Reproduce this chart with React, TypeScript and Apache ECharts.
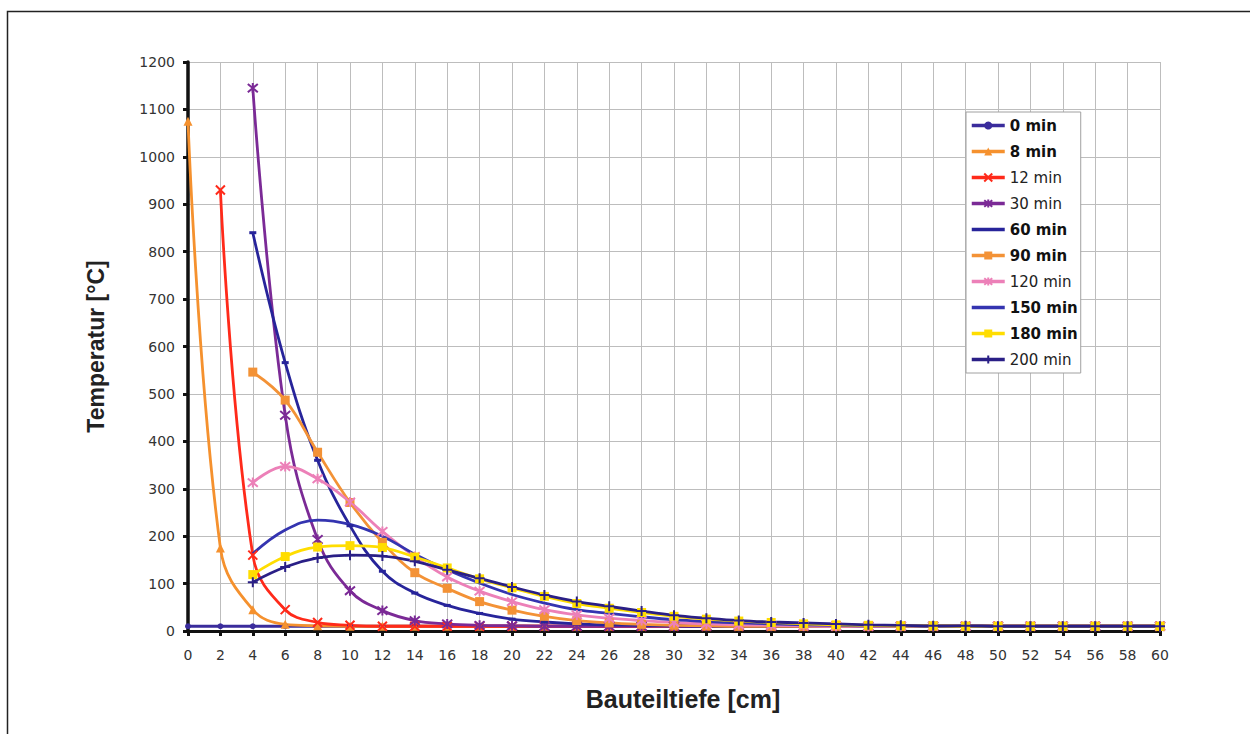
import React, { useEffect, useRef } from "react";
import * as echarts from "echarts";

const depths = [0, 2, 4, 6, 8, 10, 12, 14, 16, 18, 20, 22, 24, 26, 28, 30, 32, 34, 36, 38, 40, 42, 44, 46, 48, 50, 52, 54, 56, 58, 60];

const seriesNames = ["0 min", "8 min", "12 min", "30 min", "60 min", "90 min", "120 min", "150 min", "180 min", "200 min"];

const t0 = [10, 10, 10, 10, 10, 10, 10, 10, 10, 10, 10, 10, 10, 10, 10, 10, 10, 10, 10, 10, 10, 10, 10, 10, 10, 10, 10, 10, 10, 10, 10];
const t8 = [1075, 175, 45, 14, 11, 10, 10, 10, 10, 10, 10, 10, 10, 10, 10, 10, 10, 10, 10, 10, 10, 10, 10, 10, 10, 10, 10, 10, 10, 10, 10];
const t12 = [null, 930, 160, 45, 18, 12, 10, 10, 10, 10, 10, 10, 10, 10, 10, 10, 10, 10, 10, 10, 10, 10, 10, 10, 10, 10, 10, 10, 10, 10, 10];
const t30 = [null, null, 1145, 455, 193, 85, 43, 22, 15, 12, 11, 10, 10, 10, 10, 10, 10, 10, 10, 10, 10, 10, 10, 10, 10, 10, 10, 10, 10, 10, 10];
const t60 = [null, null, 840, 566, 360, 222, 126, 80, 54, 37, 25, 19, 15, 13, 12, 11, 10, 10, 10, 10, 10, 10, 10, 10, 10, 10, 10, 10, 10, 10, 10];
const t90 = [null, null, 546, 487, 377, 271, 187, 123, 90, 62, 44, 31, 22, 17, 14, 12, 11, 10, 10, 10, 10, 10, 10, 10, 10, 10, 10, 10, 10, 10, 10];
const t120 = [null, null, 313, 347, 321, 272, 210, 157, 114, 84, 62, 45, 34, 27, 22, 18, 15, 13, 12, 11, 10, 10, 10, 10, 10, 10, 10, 10, 10, 10, 10];
const t150 = [null, null, 163, 213, 234, 225, 200, 162, 129, 101, 77, 59, 45, 37, 30, 24, 20, 17, 15, 13, 12, 11, 11, 10, 10, 10, 10, 10, 10, 10, 10];
const t180 = [null, null, 119, 157, 177, 180, 176, 156, 133, 110, 91, 73, 58, 48, 39, 31, 25, 21, 18, 15, 13, 12, 11, 11, 10, 10, 10, 10, 10, 10, 10];
const t200 = [null, null, 103, 135, 154, 160, 158, 147, 129, 111, 93, 76, 62, 52, 42, 33, 27, 22, 19, 17, 15, 13, 12, 11, 11, 10, 10, 10, 10, 10, 10];

const seriesValues = [t0, t8, t12, t30, t60, t90, t120, t150, t180, t200];

const colors = ["#3a2c9c", "#f5912e", "#ff2a1a", "#7b2a96", "#27249a", "#f39236", "#ec80b8", "#3434b0", "#ffdd00", "#2a1f86"];
const boldNames = ["0 min", "8 min", "60 min", "90 min", "150 min", "180 min"];
const lineOnlyLegend = ["60 min", "150 min"];

const X_PATH = "path://M0,0L10,10M10,0L0,10";
const STAR_PATH = "path://M0,0L10,10M10,0L0,10M5,-1L5,11";
const PLUS_PATH = "path://M5,0L5,10M0,5L10,5";

const symbols = ["circle", "triangle", X_PATH, STAR_PATH, "rect", "rect", STAR_PATH, "none", "rect", PLUS_PATH];
const symbolSizes: (number | number[])[] = [6, 9, 9, 10, [7, 3], 9, 10, 6, 9, 10];
const strokeSymbol = [false, false, true, true, false, false, true, false, false, true];

const FONT = "'DejaVu Sans', Verdana, sans-serif";
const TITLE_FONT = "'Liberation Sans', Arial, sans-serif";

export default function App() {
  const ref = useRef<HTMLDivElement>(null);

  useEffect(() => {
    if (!ref.current) return;
    const chart = echarts.init(ref.current, undefined, { renderer: "svg" });

    const series = seriesNames.map((name, si) => {
      const vals = seriesValues[si];
      const data: [number, number][] = [];
      depths.forEach((d, i) => {
        const v = vals[i];
        if (v !== null && v !== undefined) data.push([d, v as number]);
      });
      const c = colors[si];
      return {
        name,
        type: "line",
        data,
        smooth: 0.4,
        symbol: symbols[si],
        symbolSize: symbolSizes[si],
        showSymbol: symbols[si] !== "none",
        lineStyle: { color: c, width: 2.8 },
        itemStyle: strokeSymbol[si]
          ? { color: c, borderColor: c, borderWidth: 2 }
          : { color: c, borderColor: c, borderWidth: 0 },
        emphasis: { disabled: true },
      };
    });

    const legendData = seriesNames.map((name) =>
      lineOnlyLegend.includes(name) ? { name, itemStyle: { opacity: 0 } } : { name }
    );

    const option = {
      animation: false,
      backgroundColor: "#ffffff",
      graphic: [
        {
          type: "rect",
          shape: { x: 7.5, y: 11.5, width: 1300, height: 800 },
          style: { fill: "none", stroke: "#222222", lineWidth: 1.5 },
          silent: true,
        },
      ],
      grid: { left: 188, top: 62, right: 90, bottom: 103, containLabel: false },
      xAxis: {
        type: "value",
        min: 0,
        max: 60,
        interval: 2,
        name: "Bauteiltiefe [cm]",
        nameLocation: "middle",
        nameGap: 55,
        nameTextStyle: { fontFamily: TITLE_FONT, fontSize: 25, fontWeight: "bold", color: "#222", padding: [0, 0, 0, 18] },
        axisLine: { show: true, onZero: false, lineStyle: { color: "#111", width: 3 } },
        axisTick: { show: true, length: 5, lineStyle: { color: "#111", width: 3 } },
        axisLabel: { fontFamily: FONT, fontSize: 14, color: "#333", margin: 17, formatter: (v: number) => String(v) },
        splitLine: { show: true, lineStyle: { color: "#bdbdbd", width: 1 } },
      },
      yAxis: {
        type: "value",
        min: 0,
        max: 1200,
        interval: 100,
        name: "Temperatur [°C]",
        nameLocation: "middle",
        nameGap: 81,
        nameTextStyle: { fontFamily: TITLE_FONT, fontSize: 23, fontWeight: "bold", color: "#222" },
        axisLine: { show: true, lineStyle: { color: "#111", width: 3.5 } },
        axisTick: { show: true, length: 5, lineStyle: { color: "#111", width: 3 } },
        axisLabel: { fontFamily: FONT, fontSize: 14, color: "#333", margin: 13, formatter: (v: number) => String(v) },
        splitLine: { show: true, lineStyle: { color: "#bdbdbd", width: 1 } },
      },
      legend: {
        orient: "vertical",
        left: 966,
        top: 112,
        itemWidth: 33,
        itemHeight: 10,
        itemGap: 11,
        padding: [6, 3, 6, 4],
        backgroundColor: "#ffffff",
        borderColor: "#a0a0a0",
        borderWidth: 1,
        lineStyle: { width: 3.5 },
        data: legendData,
        formatter: (name: string) => (boldNames.includes(name) ? `{b|${name}}` : `{n|${name}}`),
        textStyle: {
          fontFamily: FONT,
          fontSize: 15,
          color: "#111",
          rich: {
            b: { fontFamily: FONT, fontSize: 15, fontWeight: "bold", color: "#111", height: 14 },
            n: { fontFamily: FONT, fontSize: 15, color: "#222", height: 14 },
          },
        },
      },
      series,
    };

    chart.setOption(option as any);
    return () => chart.dispose();
  }, []);

  return (
    <div
      ref={ref}
      style={{ position: "fixed", left: 0, top: 0, width: 1250, height: 734, background: "#fff" }}
    />
  );
}
